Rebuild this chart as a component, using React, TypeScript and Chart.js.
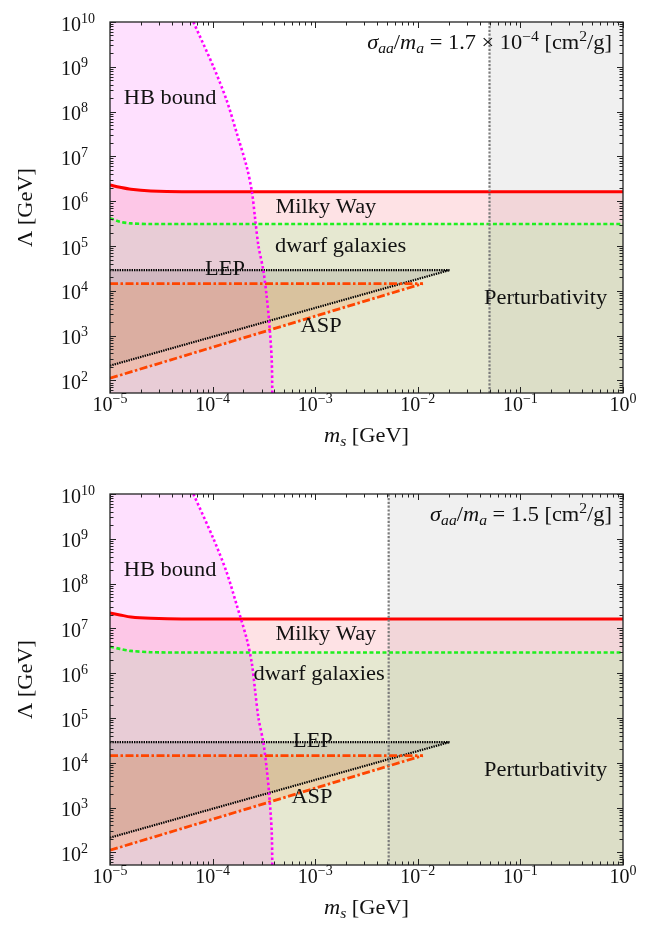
import React, { useEffect, useRef } from "react";
import { Chart, registerables } from "chart.js";

Chart.register(...registerables);

// ---------- axes ----------
const X_MIN = 1e-5;
const X_MAX = 1;
const Y_MIN = 52.5;
const Y_MAX = 1e10;
const X_TICKS = [1e-5, 1e-4, 1e-3, 1e-2, 1e-1, 1];
const X_TICK_EXP = ["−5", "−4", "−3", "−2", "−1", "0"];
const Y_TICKS = [1e2, 1e3, 1e4, 1e5, 1e6, 1e7, 1e8, 1e9, 1e10];
const Y_TICK_EXP = ["2", "3", "4", "5", "6", "7", "8", "9", "10"];
const MINOR = [2, 3, 4, 5, 6, 7, 8, 9];

// ---------- HB bound (same in both panels) ----------
const HB_MS = [6.5e-5, 1.02e-4, 1.37e-4, 1.72e-4, 2.15e-4, 2.42e-4, 2.6e-4, 2.8e-4, 3.12e-4, 3.37e-4, 3.57e-4, 3.77e-4, 3.82e-4];
const HB_LAMBDA = [1e10, 1e9, 1.8e8, 3.3e7, 5.9e6, 1.6e6, 4e5, 1e5, 2.9e4, 7.4e3, 1.86e3, 2.9e2, 5.0e1];

// ---------- Milky Way / dwarf galaxies curves ----------
const CURVE_MS = [1e-5, 1.25e-5, 1.6e-5, 2.5e-5, 5e-5, 1];
const MW_TOP = [2.3e6, 2.05e6, 1.85e6, 1.7e6, 1.63e6, 1.62e6];
const DW_TOP = [4.2e5, 3.5e5, 3.2e5, 3.1e5, 3.1e5, 3.1e5];
const MW_BOT = [2.2e7, 2.0e7, 1.8e7, 1.68e7, 1.62e7, 1.62e7];
const DW_BOT = [3.9e6, 3.5e6, 3.15e6, 2.95e6, 2.9e6, 2.9e6];

// ---------- LEP / ASP ----------
const LEP_MS = [1e-5, 2.04e-2];
const LEP_UPPER = [2.9e4, 2.9e4];
const LEP_LOWER = [214, 2.9e4];
const ASP_MS = [1e-5, 1.12e-2];
const ASP_UPPER = [1.45e4, 1.45e4];
const ASP_LOWER = [112, 1.45e4];

// ---------- Perturbativity ----------
const PERT_TOP = 0.05;
const PERT_BOT = 5.2e-3;

// ---------- styles ----------
const FONT = '"Liberation Serif", "Times New Roman", serif';
const TEXT_STRETCH = 1.12;
const PERT_FILL = "rgba(120,120,120,0.11)";
const DW_FILL = "rgba(178,186,115,0.33)";
const MW_FILL = "rgba(250,110,125,0.2)";
const HB_FILL = "rgba(245,0,245,0.12)";
const LEP_FILL = "rgba(40,40,40,0.12)";
const ASP_FILL = "rgba(255,140,50,0.22)";

type Run = { t: string; s?: number; it?: boolean; dy?: number };

function setFont(ctx: CanvasRenderingContext2D, size: number, italic?: boolean) {
  ctx.font = `${italic ? "italic " : ""}${size}px ${FONT}`;
}
function widthOf(ctx: CanvasRenderingContext2D, runs: Run[], sx = 1) {
  let w = 0;
  for (const r of runs) {
    setFont(ctx, r.s ?? 20, r.it);
    w += ctx.measureText(r.t).width * sx;
  }
  return w;
}
function drawRuns(ctx: CanvasRenderingContext2D, runs: Run[], x: number, y: number, sx = 1) {
  for (const r of runs) {
    setFont(ctx, r.s ?? 20, r.it);
    ctx.save();
    ctx.translate(x, y + (r.dy ?? 0));
    ctx.scale(sx, 1);
    ctx.fillText(r.t, 0, 0);
    ctx.restore();
    x += ctx.measureText(r.t).width * sx;
  }
}

const decor = {
  id: "decor",
  afterDraw(chart: any, _args: any, opts: any) {
    const ctx: CanvasRenderingContext2D = chart.ctx;
    const a = chart.chartArea;
    const xs = chart.scales.x;
    const ys = chart.scales.y;
    ctx.save();
    ctx.fillStyle = "#111";
    ctx.textAlign = "left";
    ctx.textBaseline = "alphabetic";

    // region labels
    for (const L of opts.labels) {
      const runs: Run[] = [{ t: L.text }];
      const w = widthOf(ctx, runs, TEXT_STRETCH);
      drawRuns(ctx, runs, xs.getPixelForValue(L.m) - w / 2, ys.getPixelForValue(L.lam), TEXT_STRETCH);
    }
    // annotation
    const nw = widthOf(ctx, opts.note, TEXT_STRETCH);
    drawRuns(ctx, opts.note, a.right - 11 - nw, a.top + 27, TEXT_STRETCH);

    // frame
    ctx.strokeStyle = "#222";
    ctx.lineWidth = 1.3;
    ctx.strokeRect(a.left, a.top, a.right - a.left, a.bottom - a.top);

    // ticks
    ctx.lineWidth = 1;
    ctx.beginPath();
    const xTick = (v: number, len: number) => {
      const p = Math.round(xs.getPixelForValue(v)) + 0.5;
      ctx.moveTo(p, a.bottom);
      ctx.lineTo(p, a.bottom - len);
      ctx.moveTo(p, a.top);
      ctx.lineTo(p, a.top + len);
    };
    const yTick = (v: number, len: number) => {
      const p = Math.round(ys.getPixelForValue(v)) + 0.5;
      ctx.moveTo(a.left, p);
      ctx.lineTo(a.left + len, p);
      ctx.moveTo(a.right, p);
      ctx.lineTo(a.right - len, p);
    };
    for (const t of X_TICKS) {
      xTick(t, 6);
      for (const k of MINOR) {
        const v = t * k;
        if (v < X_MAX) xTick(v, 3.5);
      }
    }
    for (const t of [10, ...Y_TICKS]) {
      if (t >= Y_MIN) yTick(t, 6);
      for (const k of MINOR) {
        const v = t * k;
        if (v > Y_MIN && v < Y_MAX) yTick(v, 3.5);
      }
    }
    ctx.stroke();

    // tick labels
    ctx.fillStyle = "#111";
    X_TICKS.forEach((t, i) => {
      const runs: Run[] = [{ t: "10" }, { t: X_TICK_EXP[i], s: 14, dy: -8 }];
      const w = widthOf(ctx, runs);
      drawRuns(ctx, runs, xs.getPixelForValue(t) - w / 2, a.bottom + 18);
    });
    Y_TICKS.forEach((t, i) => {
      const runs: Run[] = [{ t: "10" }, { t: Y_TICK_EXP[i], s: 14, dy: -8 }];
      drawRuns(ctx, runs, a.left - 49, ys.getPixelForValue(t) + 8.5);
    });

    // axis titles
    const xt: Run[] = [{ t: "m", it: true }, { t: "s", it: true, s: 14, dy: 4 }, { t: " [GeV]" }];
    const xw = widthOf(ctx, xt, TEXT_STRETCH);
    drawRuns(ctx, xt, (a.left + a.right) / 2 - xw / 2, a.bottom + 49, TEXT_STRETCH);

    ctx.translate(32, (a.top + a.bottom) / 2);
    ctx.rotate(-Math.PI / 2);
    const yt: Run[] = [{ t: "Λ" }, { t: " [GeV]" }];
    const yw = widthOf(ctx, yt, TEXT_STRETCH);
    drawRuns(ctx, yt, -yw / 2, 0, TEXT_STRETCH);
    ctx.restore();
  },
};

const pts = (xs: number[], ys: number[]) => xs.map((x, i) => ({ x, y: ys[i] }));

function fillDs(data: any[], color: string, order: number) {
  return {
    data,
    fill: "shape",
    backgroundColor: color,
    borderColor: "rgba(0,0,0,0)",
    borderWidth: 0,
    pointRadius: 0,
    pointHoverRadius: 0,
    tension: 0,
    order,
  };
}
function lineDs(data: any[], color: string, width: number, dash: number[], order: number, tension = 0) {
  return {
    data,
    fill: false,
    borderColor: color,
    backgroundColor: color,
    borderWidth: width,
    borderDash: dash,
    pointRadius: 0,
    pointHoverRadius: 0,
    tension,
    order,
  };
}

type PanelCfg = {
  mw: number[];
  dw: number[];
  pert: number;
  padTop: number;
  height: number;
  xAxisH: number;
  labels: { text: string; m: number; lam: number }[];
  note: Run[];
};

const TOP_CFG: PanelCfg = {
  mw: MW_TOP,
  dw: DW_TOP,
  pert: PERT_TOP,
  padTop: 22,
  height: 465,
  xAxisH: 72,
  labels: [
    { text: "HB bound", m: 3.85e-5, lam: 10 ** 8.17 },
    { text: "Milky Way", m: 1.27e-3, lam: 10 ** 5.737 },
    { text: "dwarf galaxies", m: 1.77e-3, lam: 10 ** 4.866 },
    { text: "LEP", m: 1.32e-4, lam: 10 ** 4.353 },
    { text: "ASP", m: 1.14e-3, lam: 10 ** 3.08 },
    { text: "Perturbativity", m: 0.176, lam: 10 ** 3.705 },
  ],
  note: [
    { t: "σ", it: true },
    { t: "aa", it: true, s: 14, dy: 4 },
    { t: "/" },
    { t: "m", it: true },
    { t: "a", it: true, s: 14, dy: 4 },
    { t: " = 1.7 × 10" },
    { t: "−4", s: 14, dy: -8 },
    { t: " [cm" },
    { t: "2", s: 14, dy: -8 },
    { t: "/g]" },
  ],
};

const BOT_CFG: PanelCfg = {
  mw: MW_BOT,
  dw: DW_BOT,
  pert: PERT_BOT,
  padTop: 29,
  height: 466,
  xAxisH: 66,
  labels: [
    { text: "HB bound", m: 3.85e-5, lam: 10 ** 8.16 },
    { text: "Milky Way", m: 1.27e-3, lam: 10 ** 6.74 },
    { text: "dwarf galaxies", m: 1.09e-3, lam: 10 ** 5.85 },
    { text: "LEP", m: 9.5e-4, lam: 10 ** 4.353 },
    { text: "ASP", m: 9.3e-4, lam: 10 ** 3.1 },
    { text: "Perturbativity", m: 0.176, lam: 10 ** 3.705 },
  ],
  note: [
    { t: "σ", it: true },
    { t: "aa", it: true, s: 14, dy: 4 },
    { t: "/" },
    { t: "m", it: true },
    { t: "a", it: true, s: 14, dy: 4 },
    { t: " = 1.5 [cm" },
    { t: "2", s: 14, dy: -8 },
    { t: "/g]" },
  ],
};

function Panel({ cfg, top }: { cfg: PanelCfg; top: number }) {
  const ref = useRef<HTMLCanvasElement>(null);
  useEffect(() => {
    const mw = pts(CURVE_MS, cfg.mw);
    const dw = pts(CURVE_MS, cfg.dw);
    const hb = pts(HB_MS, HB_LAMBDA);
    const hbLast = hb[hb.length - 1].y;
    const datasets: any[] = [
      fillDs(
        [
          { x: cfg.pert, y: Y_MIN },
          { x: cfg.pert, y: Y_MAX },
          { x: X_MAX, y: Y_MAX },
          { x: X_MAX, y: Y_MIN },
        ],
        PERT_FILL,
        100
      ),
      fillDs([...dw, { x: X_MAX, y: Y_MIN }, { x: X_MIN, y: Y_MIN }], DW_FILL, 99),
      fillDs([...mw, ...dw.slice().reverse()], MW_FILL, 98),
      fillDs([{ x: X_MIN, y: Y_MAX }, ...hb, { x: X_MIN, y: hbLast }], HB_FILL, 97),
      fillDs(
        [
          { x: LEP_MS[0], y: LEP_UPPER[0] },
          { x: LEP_MS[1], y: LEP_UPPER[1] },
          { x: LEP_MS[0], y: LEP_LOWER[0] },
        ],
        LEP_FILL,
        96
      ),
      fillDs(
        [
          { x: ASP_MS[0], y: ASP_UPPER[0] },
          { x: ASP_MS[1], y: ASP_UPPER[1] },
          { x: ASP_MS[0], y: ASP_LOWER[0] },
        ],
        ASP_FILL,
        95
      ),
      lineDs(dw, "#1ef01e", 2.6, [4, 2.5], 10, 0.3),
      lineDs(mw, "#ff0000", 3, [], 9, 0.3),
      lineDs(pts(LEP_MS, LEP_UPPER), "#000000", 2.2, [1.4, 1.0], 8),
      lineDs(pts(LEP_MS, LEP_LOWER), "#000000", 2.2, [1.4, 1.0], 7),
      lineDs(pts(ASP_MS, ASP_UPPER), "#ff4500", 2.6, [8, 2.5, 2.5, 2.5], 6),
      lineDs(pts(ASP_MS, ASP_LOWER), "#ff4500", 2.8, [8, 2.5, 2.5, 2.5], 5),
      lineDs(hb, "#ff00ff", 2.6, [2.5, 2.5], 4, 0.3),
      lineDs(
        [
          { x: cfg.pert, y: Y_MIN },
          { x: cfg.pert, y: Y_MAX },
        ],
        "#7c7c7c",
        2.2,
        [2.2, 1.6],
        3
      ),
    ];
    const chart = new Chart(ref.current!, {
      type: "line",
      data: { datasets },
      options: {
        animation: false,
        responsive: false,
        devicePixelRatio: 1,
        events: [],
        layout: { padding: { top: cfg.padTop, right: 26, left: 0, bottom: 0 } },
        plugins: {
          legend: { display: false },
          tooltip: { enabled: false },
          filler: { drawTime: "beforeDatasetsDraw" },
          decor: { labels: cfg.labels, note: cfg.note },
        } as any,
        scales: {
          x: {
            type: "logarithmic",
            min: X_MIN,
            max: X_MAX,
            grid: { display: false },
            border: { display: false },
            ticks: { display: false },
            afterFit: (s: any) => {
              s.height = cfg.xAxisH;
            },
          },
          y: {
            type: "logarithmic",
            min: Y_MIN,
            max: Y_MAX,
            grid: { display: false },
            border: { display: false },
            ticks: { display: false },
            afterFit: (s: any) => {
              s.width = 110;
            },
          },
        },
      } as any,
      plugins: [decor as any],
    });
    return () => chart.destroy();
  }, [cfg]);
  return (
    <canvas
      ref={ref}
      width={649}
      height={cfg.height}
      style={{ position: "absolute", left: 0, top, width: 649, height: cfg.height, display: "block" }}
    />
  );
}

export default function App() {
  return (
    <div style={{ position: "absolute", left: 0, top: 0, width: 649, height: 931, background: "#ffffff" }}>
      <Panel cfg={TOP_CFG} top={0} />
      <Panel cfg={BOT_CFG} top={465} />
    </div>
  );
}
